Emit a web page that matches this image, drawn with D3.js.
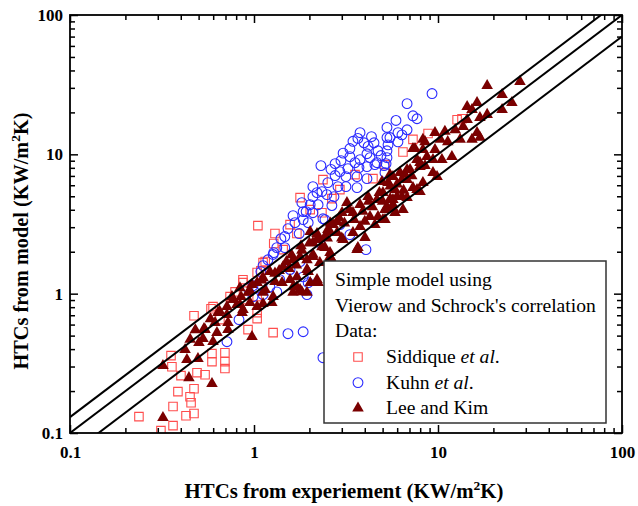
<!DOCTYPE html>
<html><head><meta charset="utf-8">
<script src="https://cdn.jsdelivr.net/npm/d3@7"></script>
<style>body{margin:0;background:#fff}svg{display:block}</style>
</head><body>
<svg id="c" width="638" height="506"></svg>
<script>
const majorTicks = [0.1, 1, 10, 100];
const tickLabels = ["0.1", "1", "10", "100"];
const lineFactors = [1.3, 1.0, 0.7];
const legendTitle = ["Simple model using", "Vierow and Schrock's correlation", "Data:"];
const seriesNames = ["Siddique", "Kuhn", "Lee and Kim"];
const seriesItalic = [" et al", " et al", ""];

const siddique = [[0.237,0.131],[0.312,0.104],[0.363,0.113],[0.427,0.133],[0.472,0.138],[0.363,0.155],[0.386,0.198],[0.449,0.182],[0.455,0.165],[0.472,0.208],[0.354,0.359],[0.358,0.299],[0.401,0.258],[0.490,0.271],[0.542,0.262],[0.472,0.695],[0.584,0.780],[0.591,0.371],[0.591,0.325],[0.695,0.377],[0.695,0.325],[0.695,0.290],[0.928,0.552],[1.27,0.525],[1.04,0.731],[1.04,0.662],[1.12,1.67],[1.04,1.42],[0.871,1.20],[0.789,1.03],[1.04,0.952],[0.741,0.952],[0.599,0.807],[1.05,3.08],[1.30,2.70],[1.28,2.29],[1.15,1.70],[1.09,1.46],[0.871,1.26],[1.78,4.89],[1.71,2.70],[2.34,3.81],[2.37,6.58],[2.65,4.81],[4.43,6.69],[6.45,10.4],[7.31,12.8],[8.83,14.1],[12.7,17.7],[13.5,18.0],[0.894,0.906],[0.653,0.651],[1.44,2.07],[1.57,3.13],[2.02,4.01],[2.93,5.58],[3.54,7.15],[5.15,8.44]];

const kuhn = [[5.91,17.5],[5.28,15.6],[6.06,14.3],[3.77,14.3],[3.67,13.0],[3.96,12.1],[4.49,12.1],[5.28,13.2],[5.35,11.7],[3.32,11.0],[4.11,10.1],[4.72,10.6],[3.32,9.62],[3.77,9.16],[4.27,9.47],[2.97,9.01],[2.76,8.57],[3.54,8.71],[4.66,8.71],[5.22,8.57],[2.31,8.30],[2.93,7.51],[3.24,7.89],[3.72,8.03],[4.11,8.16],[4.54,8.44],[5.15,7.39],[2.76,7.04],[3.16,6.92],[3.63,6.92],[2.52,6.27],[2.86,5.86],[3.16,5.86],[3.63,5.77],[4.11,6.69],[2.09,5.86],[2.34,5.40],[2.09,4.97],[2.49,5.14],[2.72,4.97],[1.82,4.50],[2.02,4.35],[2.23,4.35],[2.65,4.29],[1.85,3.88],[2.09,3.81],[2.37,3.45],[1.63,3.63],[1.85,3.40],[1.67,3.23],[1.53,2.93],[1.76,2.70],[1.47,2.57],[2.20,5.31],[1.92,3.88],[1.97,3.23],[1.40,2.48],[1.33,2.14],[1.47,2.14],[1.28,1.97],[1.19,1.75],[1.12,1.59],[1.09,1.44],[0.988,1.14],[1.105,1.14],[0.928,1.10],[1.22,1.12],[1.33,1.03],[1.12,0.984],[1.94,0.984],[1.85,1.32],[9.28,27.3],[6.79,23.1],[7.31,18.9],[7.69,18.0],[6.79,15.0],[5.48,13.2],[6.37,13.8],[6.06,12.3],[5.28,10.6],[5.28,9.47],[5.09,8.30],[4.17,11.4],[1.53,0.516],[1.85,0.533],[2.37,0.347],[0.713,0.452],[0.829,0.651],[0.988,0.952],[4.06,2.07],[2.43,3.40],[2.28,2.32],[1.97,1.20],[1.27,1.91],[3.32,2.65],[2.93,3.13],[1.78,1.70],[1.57,1.49],[1.38,1.26],[3.05,10.2],[3.45,12.4],[4.35,13.4],[2.62,7.8],[4.9,9.8]];

const leeKim = [[0.320,0.129],[0.320,0.304],[0.443,0.249],[0.591,0.226],[0.422,0.396],[0.432,0.336],[0.496,0.341],[0.528,0.475],[0.502,0.445],[0.614,0.619],[0.637,0.731],[0.722,0.619],[0.535,0.561],[0.599,0.452],[0.629,0.525],[0.713,0.707],[0.808,0.834],[0.861,0.731],[0.975,0.491],[0.928,1.02],[0.975,1.16],[0.839,1.10],[0.542,0.552],[0.722,0.552],[0.769,0.906],[0.871,0.768],[1.04,0.807],[1.12,1.02],[1.27,0.952],[1.25,0.862],[1.42,1.20],[1.63,1.12],[1.78,1.07],[2.23,1.20],[1.71,1.32],[1.94,1.49],[1.55,1.51],[1.37,1.46],[1.12,1.30],[1.78,1.84],[2.09,1.84],[2.59,1.97],[1.82,1.03],[2.02,1.20],
[1.04,1.20],[1.15,1.07],[1.30,1.22],[1.57,1.26],[1.97,1.44],[2.20,1.26],[1.94,1.02],[1.71,1.12],[1.22,1.44],[1.44,1.56],[1.63,1.75],[1.94,1.75],[1.82,2.04],[2.09,1.91],[2.02,2.79],[2.23,2.52],[2.52,2.88],[2.69,3.13],[2.09,2.32],[2.43,2.14],[2.28,1.67],[2.65,1.75],[0.951,0.862],[1.12,0.848],[0.839,0.834],[0.759,0.952],[0.713,0.807],[1.63,1.02],
[4.96,6.37],[5.48,7.15],[6.37,6.58],[7.05,7.76],[7.98,8.71],[6.79,4.89],[5.69,4.35],[4.66,4.73],[4.17,4.97],[3.77,4.35],[3.45,3.81],[3.20,4.50],[3.01,3.81],[2.83,3.29],[2.59,2.79],[2.43,2.57],[2.20,2.44],[2.34,2.17],[2.83,2.74],[3.05,2.44],[3.63,2.07],[4.01,2.52],[4.54,3.13],[4.72,3.57],[5.15,3.40],[5.84,3.81],[6.45,4.01],[2.59,1.84],[3.45,2.74],[3.77,3.03],[4.27,3.57],[5.28,4.21],[5.98,4.97],[7.69,5.58],[8.28,6.27],[3.67,2.14],
[18.5,31.1],[27.9,33.3],[25.2,23.5],[22.3,26.8],[22.3,20.9],[16.3,23.5],[14.4,22.0],[15.3,20.9],[18.5,19.3],[16.9,18.3],[14.4,17.7],[13.7,15.8],[12.4,15.0],[16.3,14.3],[15.3,12.8],[16.9,13.2],[10.9,14.6],[9.63,14.3],[10.3,12.8],[11.3,12.3],[13.2,12.8],[11.9,9.62],[10.5,9.16],[8.28,12.8],[7.31,11.0],[8.28,10.8],[9.63,10.8],[9.39,9.16],[8.71,9.62],[7.69,9.16],[7.98,8.16],[9.39,7.39],[9.88,6.92],[6.79,7.76],[6.21,7.39],[5.69,6.92],[6.79,6.58],[7.31,5.77],[7.98,5.40],[5.84,5.58],[5.35,6.27],[5.02,5.31],[5.69,4.73],[6.37,4.97],[5.69,4.14],[5.15,4.01],[5.02,3.40],[8.50,12.3],[7.50,11.0],[8.50,8.30],
[1.5,1.7],[1.6,1.9],[1.8,2.2],[2.0,2.3],[2.2,2.7],[2.5,2.5],[2.6,3.2],[2.9,3.5],[3.1,3.2],[3.3,4.0],[3.5,3.4],[3.9,3.9],[4.2,4.6],[4.4,4.2],[4.8,5.3],[5.0,4.6],[5.5,5.9],[6.0,6.1],[6.6,7.2],[7.2,7.0],[1.3,1.4],[1.1,1.25],[0.95,1.05],[0.85,0.95],[0.65,0.75],[0.58,0.66],[0.48,0.55],[0.45,0.47],[1.7,1.6],[3.0,2.5],[4.0,3.3],[5.5,4.8],[6.5,5.5]];

const W = 638, H = 506;
const L = 70, R = 622, T = 15, B = 433;
const svg = d3.select("#c");
const x = d3.scaleLog().domain([0.1, 100]).range([L, R]);
const y = d3.scaleLog().domain([0.1, 100]).range([B, T]);
const serif = "'Liberation Serif','Times New Roman',Times,serif";

const minor = [];
for (let d = 0.1; d < 100; d *= 10) for (let k = 2; k <= 9; k++) minor.push(+(d * k).toPrecision(3));

const red = "#ff4d4d", blue = "#2b2bff", maroon = "#7a0000";
const sqSize = 72, triSize = 58, circR = 4.9;

svg.append("clipPath").attr("id", "clip").append("rect").attr("x", L).attr("y", T).attr("width", R - L).attr("height", B - T);
const plot = svg.append("g").attr("clip-path", "url(#clip)");

plot.append("g").selectAll("path").data(siddique).join("path")
  .attr("transform", d => `translate(${x(d[0])},${y(d[1])})`)
  .attr("d", d3.symbol(d3.symbolSquare, sqSize)())
  .attr("fill", "none").attr("stroke", red).attr("stroke-width", 1.1);
plot.append("g").selectAll("circle").data(kuhn).join("circle")
  .attr("cx", d => x(d[0])).attr("cy", d => y(d[1])).attr("r", circR)
  .attr("fill", "none").attr("stroke", blue).attr("stroke-width", 1.1);
plot.append("g").selectAll("path").data(leeKim).join("path")
  .attr("transform", d => `translate(${x(d[0])},${y(d[1])})`)
  .attr("d", d3.symbol(d3.symbolTriangle, triSize)())
  .attr("fill", maroon);

const line = d3.line().x(d => x(d[0])).y(d => y(d[1]));
plot.append("g").selectAll("path").data(lineFactors).join("path")
  .attr("d", f => line([[0.1, 0.1 * f], [100, 100 * f]]))
  .attr("fill", "none").attr("stroke", "#000").attr("stroke-width", 2);

function styleAxis(g) {
  g.select(".domain").remove();
  g.selectAll("line").attr("stroke", "#000").attr("stroke-width", 1.5);
  g.selectAll("text").attr("font-family", serif).attr("font-weight", "bold").attr("font-size", 17).attr("fill", "#000");
}
const fmt = d => tickLabels[majorTicks.indexOf(d)];
svg.append("g").attr("transform", `translate(0,${B})`)
  .call(d3.axisBottom(x).tickValues(majorTicks).tickFormat(fmt).tickSize(-8).tickPadding(13)).call(styleAxis);
svg.append("g").attr("transform", `translate(0,${B})`)
  .call(d3.axisBottom(x).tickValues(minor).tickFormat("").tickSize(-5)).call(styleAxis);
svg.append("g").attr("transform", `translate(0,${T})`)
  .call(d3.axisTop(x).tickValues(majorTicks).tickFormat("").tickSize(-8)).call(styleAxis);
svg.append("g").attr("transform", `translate(0,${T})`)
  .call(d3.axisTop(x).tickValues(minor).tickFormat("").tickSize(-5)).call(styleAxis);
svg.append("g").attr("transform", `translate(${L},0)`)
  .call(d3.axisLeft(y).tickValues(majorTicks).tickFormat(fmt).tickSize(-8).tickPadding(7)).call(styleAxis);
svg.append("g").attr("transform", `translate(${L},0)`)
  .call(d3.axisLeft(y).tickValues(minor).tickFormat("").tickSize(-5)).call(styleAxis);
svg.append("g").attr("transform", `translate(${R},0)`)
  .call(d3.axisRight(y).tickValues(majorTicks).tickFormat("").tickSize(-8)).call(styleAxis);
svg.append("g").attr("transform", `translate(${R},0)`)
  .call(d3.axisRight(y).tickValues(minor).tickFormat("").tickSize(-5)).call(styleAxis);

svg.append("rect").attr("x", L).attr("y", T).attr("width", R - L).attr("height", B - T)
  .attr("fill", "none").attr("stroke", "#000").attr("stroke-width", 1.8);

const xt = svg.append("text").attr("x", (L + R) / 2 - 2).attr("y", 498).attr("text-anchor", "middle")
  .attr("font-family", serif).attr("font-weight", "bold").attr("font-size", 20.8);
xt.append("tspan").text("HTCs from experiement (KW/m");
xt.append("tspan").attr("font-size", 13.5).attr("dy", -8).text("2");
xt.append("tspan").attr("dy", 8).text("K)");

const yt = svg.append("text").attr("transform", "translate(28,241) rotate(-90)").attr("text-anchor", "middle")
  .attr("font-family", serif).attr("font-weight", "bold").attr("font-size", 20.3);
yt.append("tspan").text("HTCs from model (KW/m");
yt.append("tspan").attr("font-size", 13.5).attr("dy", -8).text("2");
yt.append("tspan").attr("dy", 8).text("K)");

const lg = svg.append("g");
lg.append("rect").attr("x", 324).attr("y", 261).attr("width", 282).attr("height", 162)
  .attr("fill", "#fff").attr("stroke", "#333").attr("stroke-width", 1.5);
legendTitle.forEach((t, i) => {
  lg.append("text").attr("x", 335).attr("y", 286 + i * 25.6).attr("font-family", serif).attr("font-size", 19.6).text(t);
});
seriesNames.forEach((t, i) => {
  const ty = 363 + i * 25.6;
  const tx = lg.append("text").attr("x", 386).attr("y", ty).attr("font-family", serif).attr("font-size", 19.6);
  tx.append("tspan").text(t);
  if (seriesItalic[i]) { tx.append("tspan").attr("font-style", "italic").text(seriesItalic[i]); tx.append("tspan").text("."); }
  const cy = ty - 6;
  if (i === 0) lg.append("path").attr("transform", `translate(358,${cy})`).attr("d", d3.symbol(d3.symbolSquare, sqSize)()).attr("fill", "none").attr("stroke", red).attr("stroke-width", 1.1);
  if (i === 1) lg.append("circle").attr("cx", 358).attr("cy", cy).attr("r", circR).attr("fill", "none").attr("stroke", blue).attr("stroke-width", 1.1);
  if (i === 2) lg.append("path").attr("transform", `translate(358,${cy})`).attr("d", d3.symbol(d3.symbolTriangle, triSize)()).attr("fill", maroon);
});
</script>
</body></html>
